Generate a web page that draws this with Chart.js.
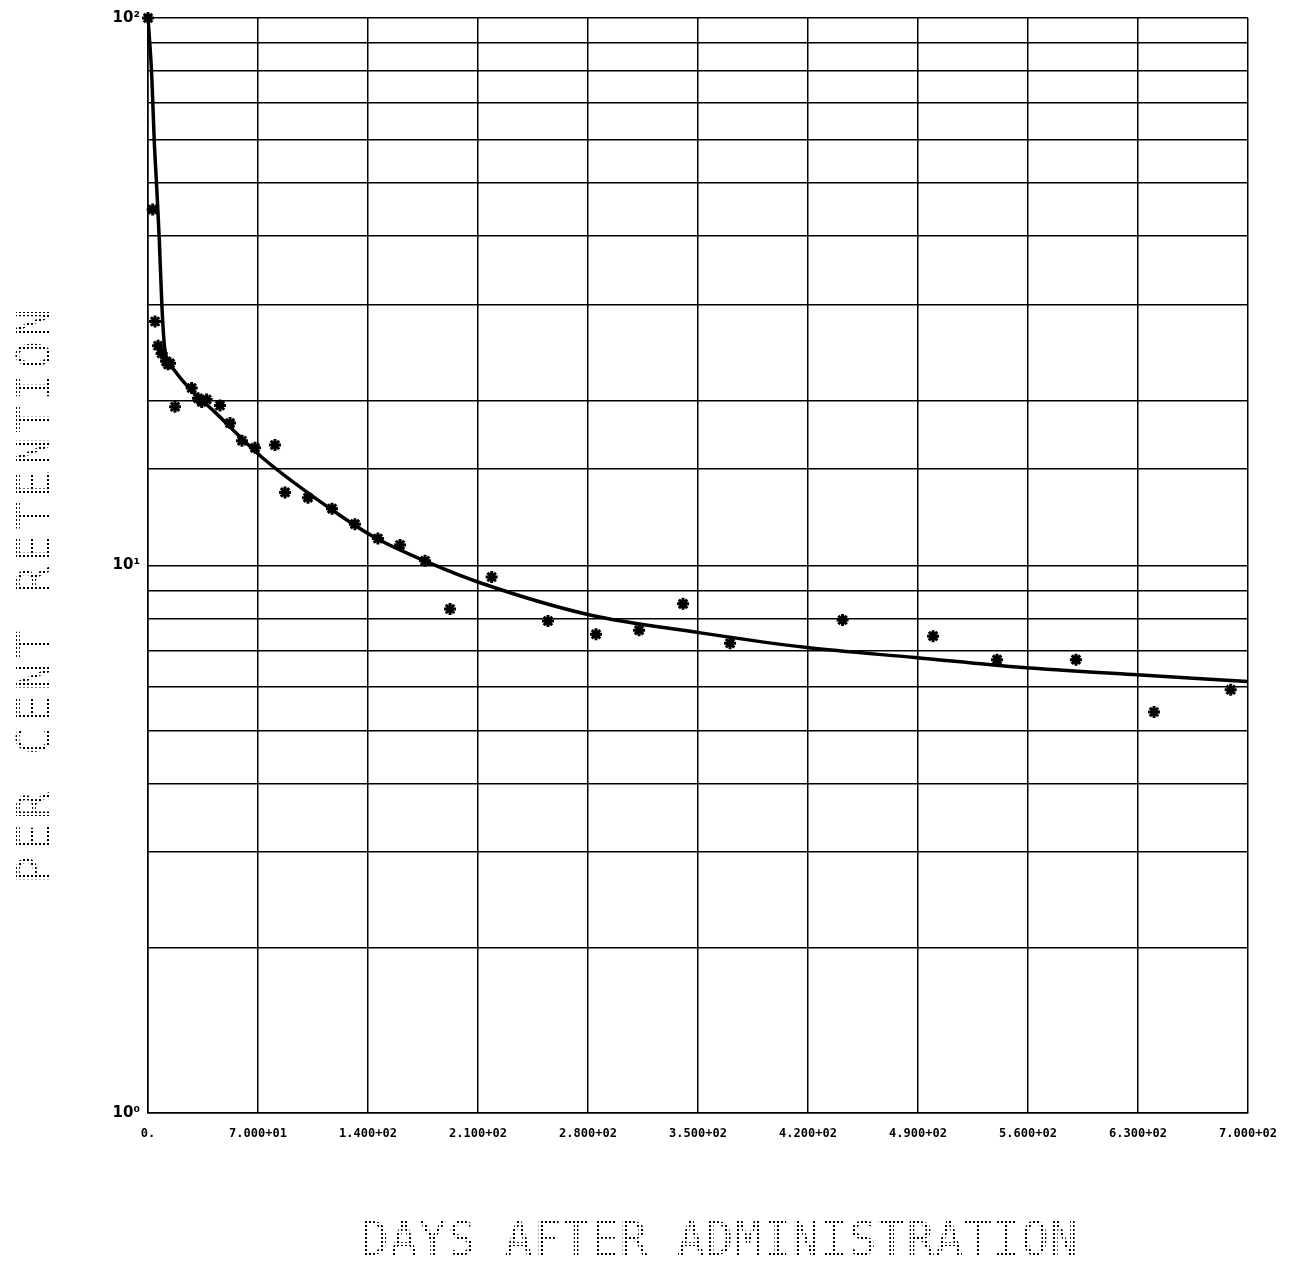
<!DOCTYPE html>
<html lang="en">
<head>
  <meta charset="UTF-8" />
  <title>Per Cent Retention</title>
  <script src="https://cdn.jsdelivr.net/npm/chart.js"></script>
  <style>
    body { margin: 0; background: #fff; }
    .wrap { position: relative; width: 1304px; height: 1262px; }
  </style>
</head>
<body>
  <div class="wrap"><canvas id="retentionChart"></canvas></div>

  <script>
    // measured points (days, per cent retained)
    const days = [0, 3.0, 4.5, 6.4, 8.7, 11.5, 12.7, 14.0, 17.2, 27.8, 31.8, 34.2, 37.3, 45.8, 52.2,
      59.8, 68.1, 80.8, 87.2, 101.8, 117.1, 131.7, 146.3, 160.4, 176.3, 192.2, 218.7, 254.5,
      285.1, 312.5, 340.5, 370.4, 442, 499.6, 540.3, 590.5, 640.2, 689];
    const retention = [100, 44.7, 27.9, 25.2, 24.4, 23.6, 23.3, 23.4, 19.5, 21.1, 20.2, 19.9, 20.1, 19.6, 18.2,
      16.9, 16.4, 16.6, 13.6, 13.3, 12.7, 11.9, 11.2, 10.9, 10.2, 8.33, 9.53, 7.92,
      7.49, 7.62, 8.51, 7.21, 7.95, 7.43, 6.73, 6.73, 5.40, 5.93];

    // fitted retention curve
    const fitDays = [0, 2.4, 4.0, 5.5, 7.2, 8.9, 10.8, 15.9, 26.7, 41.4, 73.2, 117.7, 143.2, 179.5,
      213.2, 281.3, 349.4, 419.4, 488.1, 556.8, 626.8, 700];
    const fitValues = [100, 78.3, 59.4, 49.3, 39.3, 29.6, 24.7, 22.9, 21.0, 19.2, 15.7, 12.6, 11.3, 10.1,
      9.26, 8.12, 7.55, 7.08, 6.79, 6.51, 6.32, 6.14];

    const xMin = 0, xMax = 700, xStep = 70;
    const yMin = 1, yMax = 100;
    const decadeLabels = { 1: '10\u2070', 10: '10\u00b9', 100: '10\u00b2' };
    const xTitle = 'DAYS AFTER ADMINISTRATION';
    const yTitle = 'PER CENT RETENTION';

    function fmtDays(v) {
      if (v === 0) return '0.';
      const e = Math.floor(Math.log10(v));
      const m = (v / Math.pow(10, e)).toFixed(3);
      return m + '+' + String(e).padStart(2, '0');
    }

    function dotPattern(ctx) {
      const c = document.createElement('canvas');
      c.width = 4; c.height = 4;
      const p = c.getContext('2d');
      p.fillStyle = '#000';
      p.fillRect(1, 1, 2, 2);
      return ctx.createPattern(c, 'repeat');
    }

    // dot-matrix style axis titles
    const plotterTitles = {
      id: 'plotterTitles',
      afterDraw(chart) {
        const ctx = chart.ctx;
        ctx.save();
        ctx.fillStyle = dotPattern(ctx);
        ctx.font = '46px "DejaVu Sans Mono"';
        ctx.textBaseline = 'alphabetic';
        ctx.textAlign = 'center';
        ctx.letterSpacing = '1px';
        ctx.fillText(xTitle, 720, 1255);
        ctx.translate(50, 594);
        ctx.rotate(-Math.PI / 2);
        ctx.letterSpacing = '4.5px';
        ctx.fillText(yTitle, 0, 0);
        ctx.restore();
      }
    };

    new Chart(document.getElementById('retentionChart'), {
      type: 'scatter',
      data: {
        datasets: [
          {
            label: 'fit',
            data: fitDays.map((d, i) => ({ x: d, y: fitValues[i] })),
            showLine: true,
            borderColor: '#000',
            borderWidth: 3.5,
            pointRadius: 0,
            cubicInterpolationMode: 'monotone'
          },
          {
            label: 'measured',
            data: days.map((d, i) => ({ x: d, y: retention[i] })),
            pointStyle: 'star',
            pointRadius: 6,
            borderColor: '#000',
            backgroundColor: '#000',
            borderWidth: 3,
            clip: false
          }
        ]
      },
      options: {
        responsive: true,
        maintainAspectRatio: false,
        animation: false,
        layout: { padding: { top: 18, right: 56, left: 0, bottom: 0 } },
        plugins: { legend: { display: false }, tooltip: { enabled: false } },
        scales: {
          x: {
            type: 'linear',
            min: xMin, max: xMax,
            afterFit: s => { s.height = 149; },
            grid: { color: '#000', lineWidth: 1.5, drawTicks: false },
            border: { color: '#000', width: 1.5 },
            ticks: {
              stepSize: xStep,
              padding: 14,
              color: '#000',
              maxRotation: 0,
              autoSkip: false,
              font: { family: 'DejaVu Sans Mono', size: 12, weight: 'bold' },
              callback: v => fmtDays(v)
            }
          },
          y: {
            type: 'logarithmic',
            min: yMin, max: yMax,
            afterFit: s => { s.width = 148; },
            grid: { color: '#000', lineWidth: 1.5, drawTicks: false },
            border: { color: '#000', width: 1.5 },
            ticks: {
              padding: 8,
              color: '#000',
              autoSkip: false,
              font: { family: 'DejaVu Sans', size: 15, weight: 'bold' },
              callback: v => decadeLabels[v] || ''
            }
          }
        }
      },
      plugins: [plotterTitles]
    });
  </script>
</body>
</html>
